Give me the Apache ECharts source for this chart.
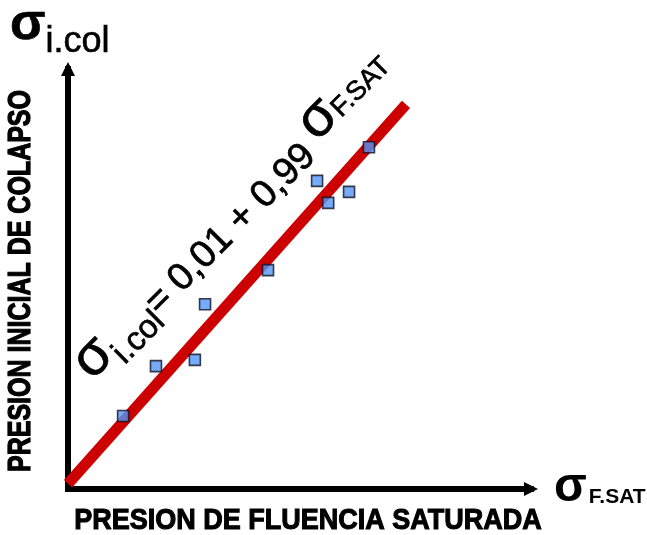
<!DOCTYPE html>
<html>
<head>
<meta charset="utf-8">
<script src="https://cdn.jsdelivr.net/npm/echarts@6/dist/echarts.min.js"></script>
<style>
  html, body { margin: 0; padding: 0; background: #fff; }
  #chart { width: 647px; height: 535px; }
</style>
</head>
<body>
<div id="chart"></div>
<script>
// Samples: saturated yield pressure (x) vs. initial collapse pressure (y), normalised units
const sigmaFSat = [0.119, 0.190, 0.274, 0.296, 0.432, 0.538, 0.562, 0.607, 0.650];
const sigmaICol = [0.139, 0.234, 0.246, 0.352, 0.417, 0.587, 0.545, 0.566, 0.651];

// Fitted relation: σi.col = 0,01 + 0,99 σF.SAT
const fitIntercept = 0.01;
const fitSlope = 0.99;
const fitRangeX = [0, 0.73];

const xAxisTitle = 'PRESION DE FLUENCIA SATURADA';
const yAxisTitle = 'PRESION INICIAL DE COLAPSO';

const FAMILY = '"Liberation Sans", Arial, sans-serif';
const measureCtx = document.createElement('canvas').getContext('2d');

// Lay out text runs on a shared baseline (y = 0), each run may shift its baseline by dy.
function layoutRuns(runs, thicken) {
  let u = 0;
  const out = [];
  runs.forEach(r => {
    const font = (r.weight || 'normal') + ' ' + r.size + 'px ' + FAMILY;
    measureCtx.font = font;
    const w = measureCtx.measureText(r.text).width;
    u += (r.gap || 0);
    const style = {
      text: r.text, font: font, fill: '#000',
      align: 'left', verticalAlign: 'middle',
      textAlign: 'left', textVerticalAlign: 'middle'
    };
    if (thicken) { style.stroke = '#000'; style.lineWidth = thicken; }
    out.push({ type: 'text', x: u, y: (r.dy || 0) - 0.35 * r.size, style: style });
    u += w;
  });
  return out;
}

const points = sigmaFSat.map((x, i) => [x, sigmaICol[i]]);
const fitLine = fitRangeX.map(x => [x, fitIntercept + fitSlope * x]);

const arrowPath = 'path://M5,0L10,10L0,10Z';

const chart = echarts.init(document.getElementById('chart'), null, { renderer: 'canvas' });

chart.setOption({
  animation: false,
  backgroundColor: '#ffffff',
  grid: { left: 68, right: 116, top: 69, bottom: 46 },
  xAxis: {
    type: 'value', min: 0, max: 1,
    axisLine: {
      show: true, onZero: false,
      symbol: ['none', arrowPath], symbolSize: [15, 14],
      lineStyle: { color: '#000', width: 6, cap: 'square' }
    },
    axisTick: { show: false }, axisLabel: { show: false }, splitLine: { show: false }
  },
  yAxis: {
    type: 'value', min: 0, max: 0.8,
    axisLine: {
      show: true, onZero: false,
      symbol: ['none', arrowPath], symbolSize: [15, 14],
      lineStyle: { color: '#000', width: 6, cap: 'square' }
    },
    axisTick: { show: false }, axisLabel: { show: false }, splitLine: { show: false }
  },
  series: [
    {
      type: 'line',
      data: fitLine,
      symbol: 'none',
      lineStyle: { color: '#cc0000', width: 11, cap: 'butt' },
      z: 2
    },
    {
      type: 'scatter',
      data: points,
      symbol: 'rect',
      symbolSize: 11,
      itemStyle: { color: '#5296f8', borderColor: '#101020', borderWidth: 1.6 },
      z: 3
    }
  ],
  graphic: [
    // y-axis symbol at the top left
    {
      type: 'group', x: 10, y: 43,
      children: layoutRuns([
        { text: 'σ', size: 52, weight: 'bold' },
        { text: 'i.col', size: 36, dy: 12 }
      ], 0.6)
    },
    // x-axis symbol at the bottom right
    {
      type: 'group', x: 554, y: 505,
      children: layoutRuns([
        { text: 'σ', size: 48, weight: 'bold' },
        { text: 'F.SAT', size: 21, weight: 'bold', gap: 2 }
      ])
    },
    // fitted equation written along the line
    {
      type: 'group', x: 95, y: 384, rotation: Math.PI / 4,
      children: layoutRuns([
        { text: 'σ', size: 56 },
        { text: 'i.col', size: 33, dy: 10 },
        { text: '= 0,01 + 0,99 ', size: 38 },
        { text: 'σ', size: 56, dy: -10 },
        { text: 'F.SAT', size: 27, dy: -12 }
      ], 0.7)
    },
    // axis titles
    {
      type: 'text', x: 308, y: 521,
      scaleY: 1.1,
      style: {
        text: xAxisTitle, font: 'bold 27px ' + FAMILY, fill: '#000',
        stroke: '#000', lineWidth: 1,
        align: 'center', verticalAlign: 'middle',
        textAlign: 'center', textVerticalAlign: 'middle'
      }
    },
    {
      type: 'text', x: 21, y: 281, rotation: Math.PI / 2,
      scaleY: 1.25,
      style: {
        text: yAxisTitle, font: 'bold 25px ' + FAMILY, fill: '#000',
        stroke: '#000', lineWidth: 1,
        align: 'center', verticalAlign: 'middle',
        textAlign: 'center', textVerticalAlign: 'middle'
      }
    }
  ]
});
</script>
</body>
</html>
